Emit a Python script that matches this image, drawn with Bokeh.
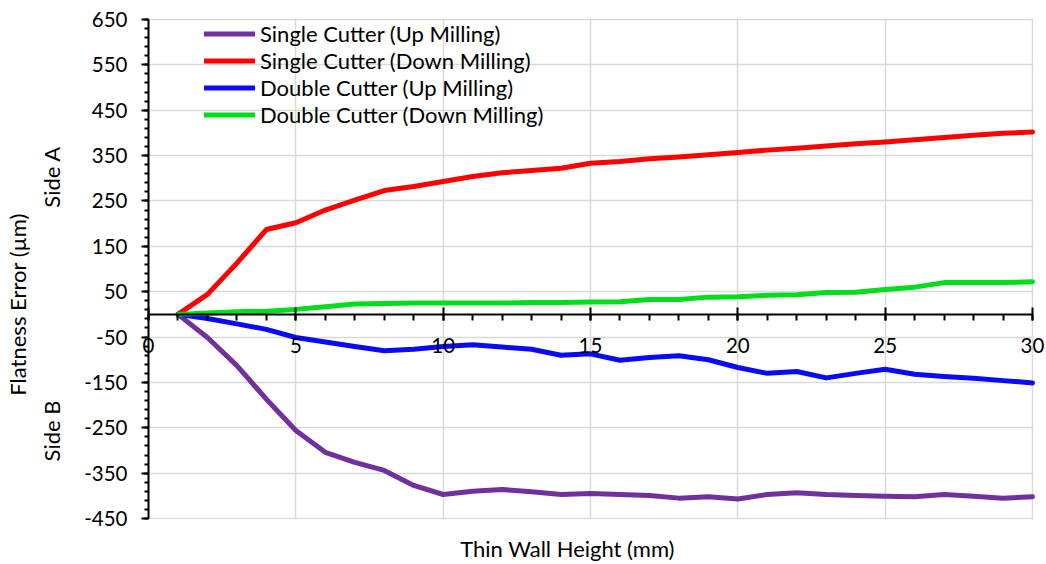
from bokeh.plotting import figure
from bokeh.models import Range1d, FixedTicker, Legend, LegendItem, LinearAxis, BoxAnnotation
from bokeh.embed import file_html
from bokeh.resources import INLINE

# ---- data ----
height_mm = list(range(1, 31))
single_up = [0, -51, -113, -187, -256, -304, -326, -344, -377, -397,
             -390, -386, -391, -397, -395, -397, -399, -405, -402, -407,
             -397, -393, -397, -399, -401, -402, -397, -401, -405, -402]
single_down = [0, 44, 113, 187, 202, 230, 252, 273, 282, 293,
               304, 312, 317, 322, 333, 337, 343, 347, 352, 357,
               362, 366, 371, 376, 380, 385, 390, 395, 399, 402]
double_up = [0, -9, -21, -33, -51, -61, -71, -80, -77, -71,
             -67, -72, -77, -90, -87, -101, -95, -91, -100, -117,
             -130, -126, -140, -130, -121, -132, -137, -141, -146, -151]
double_down = [0, 3, 6, 7, 11, 17, 23, 24, 25, 25,
               25, 25, 26, 26, 27, 28, 33, 33, 38, 39,
               42, 43, 48, 49, 55, 60, 70, 70, 70, 72]

series_names = ["Single Cutter (Up Milling)", "Single Cutter (Down Milling)",
                "Double Cutter (Up Milling)", "Double Cutter (Down Milling)"]
series_colors = ["#7030A0", "#FF0000", "#0A0AF5", "#00DE1B"]

y_ticks = list(range(-450, 651, 100))
y_minor = list(range(-450, 651, 20))
x_ticks = list(range(0, 31, 5))
x_minor = list(range(0, 31, 1))
x_min, x_max = 0, 30
y_min, y_max = -450, 650

y_title = "Flatness Error (µm)"
side_labels = {303: "Side A", -257: "Side B"}
x_title = "Thin Wall Height (mm)"

FONT = "Lato"
TICK_SIZE = "20.5px"
TEXT_SIZE = "22px"

# pixel geometry of the plotting area (x: 0 -> 148 px, 30 -> 1032 px;
# y: 650 -> 19 px, -450 -> 520 px); the frame is padded so that both axes
# (drawn where they cross) keep their tick labels unclipped
PX_X = (1032 - 148) / 30.0
PX_Y = (520 - 19) / 1100.0
FRAME_L, FRAME_R, FRAME_T, FRAME_B = 75, 1046, 5, 534

p = figure(width=1046, height=564, output_backend="svg", toolbar_location=None,
           x_range=Range1d(x_min - (148 - FRAME_L) / PX_X, x_max + (FRAME_R - 1032) / PX_X),
           y_range=Range1d(y_min - (FRAME_B - 520) / PX_Y, y_max + (19 - FRAME_T) / PX_Y),
           min_border_left=FRAME_L, min_border_right=1046 - FRAME_R,
           min_border_top=FRAME_T, min_border_bottom=564 - FRAME_B)
p.outline_line_color = None
p.background_fill_color = "white"
p.border_fill_color = "white"

# grids
p.xgrid.ticker = FixedTicker(ticks=x_ticks)
p.ygrid.ticker = FixedTicker(ticks=y_ticks)
for g in (p.xgrid[0], p.ygrid[0]):
    g.grid_line_color = "#D9D9D9"
    g.grid_line_width = 1.5

# mask gridline stubs outside the 0..30 x -450..650 plotting area
mask = dict(fill_color="white", fill_alpha=1, line_color=None, level="underlay")
p.add_layout(BoxAnnotation(right=x_min - 0.03, **mask))
p.add_layout(BoxAnnotation(left=x_max + 0.03, **mask))
p.add_layout(BoxAnnotation(bottom=y_max + 2.2, **mask))
p.add_layout(BoxAnnotation(top=y_min - 2.2, **mask))

# x axis crossing at y = 0
xa = p.xaxis[0]
xa.fixed_location = 0
xa.bounds = (x_min, x_max)
xa.ticker = FixedTicker(ticks=x_ticks, minor_ticks=x_minor)
xa.major_label_overrides = {t: str(t) for t in x_ticks}
xa.axis_line_color = "black"
xa.axis_line_width = 2
xa.major_tick_line_width = 2
xa.minor_tick_line_width = 2
xa.major_tick_in = 7
xa.major_tick_out = 6
xa.minor_tick_in = 0
xa.minor_tick_out = 6
xa.major_label_standoff = 18
xa.major_label_text_font = FONT
xa.major_label_text_font_size = TICK_SIZE
xa.major_label_text_color = "black"

# y axis crossing at x = 0
ya = p.yaxis[0]
ya.fixed_location = 0
ya.bounds = (y_min, y_max)
ya.ticker = FixedTicker(ticks=y_ticks, minor_ticks=y_minor)
ya.major_label_overrides = {t: str(t) for t in y_ticks}
ya.axis_line_color = "black"
ya.axis_line_width = 2
ya.major_tick_line_width = 2
ya.minor_tick_line_width = 2
ya.major_tick_in = 0
ya.major_tick_out = 7
ya.minor_tick_in = 0
ya.minor_tick_out = 4
ya.major_label_standoff = 14
ya.major_label_text_font = FONT
ya.major_label_text_font_size = TICK_SIZE
ya.major_label_text_color = "black"


def text_axis(ticks_labels, standoff, orientation):
    ax = LinearAxis(ticker=FixedTicker(ticks=list(ticks_labels.keys()), minor_ticks=[]),
                    major_label_overrides=dict(ticks_labels))
    ax.axis_line_color = None
    ax.major_tick_line_color = None
    ax.minor_tick_line_color = None
    ax.major_tick_in = 0
    ax.major_tick_out = 0
    ax.minor_tick_in = 0
    ax.minor_tick_out = 0
    ax.major_label_standoff = standoff
    ax.major_label_orientation = orientation
    ax.major_label_text_font = FONT
    ax.major_label_text_font_size = TEXT_SIZE
    ax.major_label_text_color = "black"
    return ax


# "Side A" / "Side B" and the y title, as extra left axes
p.add_layout(text_axis(side_labels, 10, "vertical"), "left")
p.add_layout(text_axis({22: y_title}, 4, "vertical"), "left")
# x title below
p.add_layout(text_axis({14.22: x_title}, 2, "horizontal"), "below")

# lines
all_series = [single_up, single_down, double_up, double_down]
items = []
for name, col, ys in zip(series_names, series_colors, all_series):
    r = p.line(height_mm, ys, line_color=col, line_width=5,
               line_join="round", line_cap="round")
    items.append(LegendItem(label=name, renderers=[r]))

legend = Legend(items=items, location=(56 + 148 - FRAME_L, 390 + FRAME_B - 520),
                padding=0, margin=0,
                spacing=0, glyph_width=51, glyph_height=27, label_height=27,
                label_standoff=5, label_text_font=FONT,
                label_text_font_size=TEXT_SIZE, label_text_color="black",
                border_line_alpha=0, background_fill_alpha=0)
p.add_layout(legend, "center")

open("out.html", "w").write(file_html(p, INLINE))
